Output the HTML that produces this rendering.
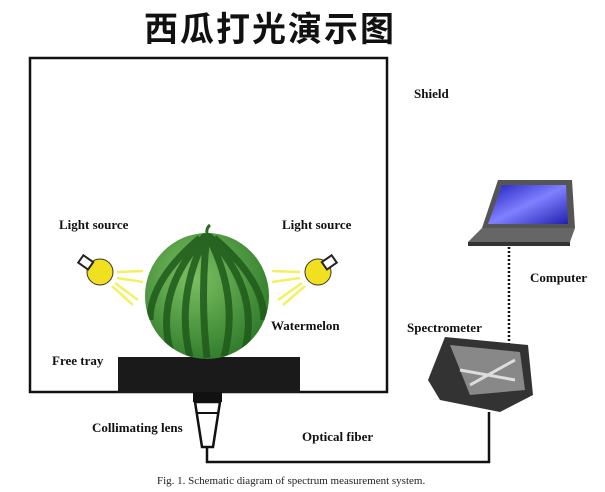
<!DOCTYPE html><html><head><meta charset="utf-8"><style>
body{margin:0;width:605px;height:492px;background:#fff;overflow:hidden;position:relative;font-family:"Liberation Serif",serif}
.t{position:absolute;font-weight:bold;font-size:13px;color:#111;white-space:nowrap}
</style></head><body>
<div style="position:absolute;left:144px;top:2px;font:bold 34px 'Noto Sans CJK SC',sans-serif;color:#111;letter-spacing:2px">西瓜打光演示图</div>
<svg width="605" height="492" style="position:absolute;left:0;top:0">
<defs><radialGradient id="wm" cx="0.4" cy="0.35" r="0.7"><stop offset="0" stop-color="#7cc060"/><stop offset="1" stop-color="#2e7a2a"/></radialGradient>
<linearGradient id="scr" x1="0" y1="0" x2="1" y2="1"><stop offset="0" stop-color="#2020c0"/><stop offset="0.5" stop-color="#8080ff"/><stop offset="1" stop-color="#2020b0"/></linearGradient>
<clipPath id="c"><ellipse cx="207" cy="296" rx="62" ry="63"/></clipPath></defs>
<rect x="30" y="58" width="357" height="334" fill="none" stroke="#111" stroke-width="2.5"/>
<rect x="118" y="357" width="182" height="36" fill="#1a1a1a"/>
<ellipse cx="207" cy="296" rx="62" ry="63" fill="url(#wm)"/>
<g stroke="#1f5a1c" stroke-width="7" fill="none" opacity="0.85" clip-path="url(#c)">
<path d="M207 234 Q200 296 207 358"/><path d="M207 234 Q175 296 190 357"/><path d="M207 234 Q240 296 224 357"/>
<path d="M205 236 Q155 290 170 350"/><path d="M209 236 Q260 290 245 350"/><path d="M200 238 Q150 280 150 320"/><path d="M214 238 Q264 280 264 320"/></g>
<path d="M207 234 Q206 228 210 225" stroke="#2a6a25" stroke-width="3" fill="none"/>
<circle cx="100" cy="272" r="13" fill="#f0e020" stroke="#333"/>
<rect x="80" y="258" width="12" height="9" fill="#fff" stroke="#222" stroke-width="2" transform="rotate(35 86 262)"/>
<circle cx="318" cy="272" r="13" fill="#f0e020" stroke="#333"/>
<rect x="323" y="258" width="12" height="9" fill="#fff" stroke="#222" stroke-width="2" transform="rotate(-35 329 262)"/>
<g stroke="#f4f060" stroke-width="2.5"><path d="M117 272 L143 271 M117 278 L143 282 M115 283 L138 300 M112 286 L133 305"/>
<path d="M300 272 L272 271 M300 278 L272 282 M302 283 L278 300 M305 286 L283 305"/></g>
<rect x="193" y="392" width="29" height="10" fill="#111"/>
<path d="M195 402 L220 402 L213 447 L202 447 Z" fill="#fff" stroke="#111" stroke-width="2.5"/>
<line x1="197" y1="413" x2="218" y2="413" stroke="#111" stroke-width="2"/>
<path d="M207 447 L207 462 L489 462 L489 412" fill="none" stroke="#111" stroke-width="2.5"/>
<line x1="509" y1="247" x2="509" y2="360" stroke="#111" stroke-width="2.5" stroke-dasharray="2 2"/>
<path d="M498 180 L572 180 L575 228 L482 228 Z" fill="#555"/>
<path d="M502 185 L566 185 L568 224 L488 224 Z" fill="url(#scr)"/>
<path d="M482 228 L575 228 L570 242 L468 242 Z" fill="#666"/>
<rect x="468" y="242" width="102" height="4" fill="#333"/>
<path d="M445 337 L528 345 L533 395 L500 412 L440 400 L428 380 Z" fill="#333"/>
<path d="M450 345 L520 352 L525 390 L470 395 Z" fill="#888"/>
<path d="M460 370 L515 380 M470 385 L515 360" stroke="#ddd" stroke-width="3"/>
</svg>
<div class="t" style="left:414px;top:86px">Shield</div>
<div class="t" style="left:59px;top:217px">Light source</div>
<div class="t" style="left:282px;top:217px">Light source</div>
<div class="t" style="left:271px;top:318px">Watermelon</div>
<div class="t" style="left:52px;top:353px">Free tray</div>
<div class="t" style="left:92px;top:420px">Collimating lens</div>
<div class="t" style="left:302px;top:429px">Optical fiber</div>
<div class="t" style="left:530px;top:270px">Computer</div>
<div class="t" style="left:407px;top:320px">Spectrometer</div>
<div style="position:absolute;left:157px;top:475px;font-size:11px;color:#222;white-space:nowrap">Fig. 1. Schematic diagram of spectrum measurement system.</div>
</body></html>
